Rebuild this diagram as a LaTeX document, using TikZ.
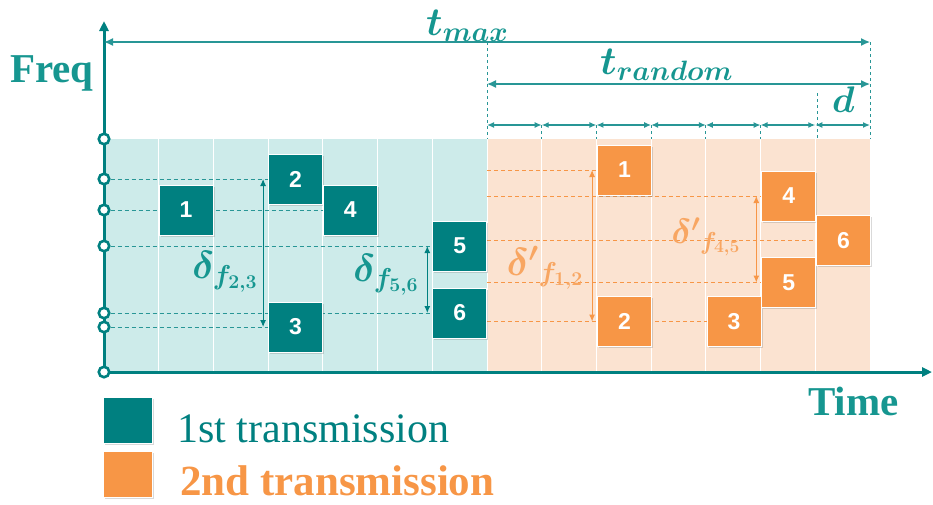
\RequirePackage{fix-cm}
\documentclass[tikz,border=0pt]{standalone}
\usepackage{amsmath}
\usepackage{fontspec}
\setmainfont{Liberation Serif}
\newfontfamily\boxfont{Liberation Sans}
\usetikzlibrary{arrows.meta,shadows,backgrounds}
\definecolor{tealbox}{RGB}{0,128,128}
\definecolor{tealtxt}{RGB}{22,150,144}
\definecolor{tealline}{RGB}{40,150,150}
\definecolor{tealbg}{RGB}{205,235,234}
\definecolor{orangebox}{RGB}{247,150,70}
\definecolor{orangebg}{RGB}{251,227,209}
\newcommand{\fsz}[1]{\fontsize{#1}{#1}\selectfont}
\tikzset{
  txbox/.style={draw=white, line width=0.8pt, minimum width=54pt, minimum height=50pt,
    inner sep=0pt, text=white, font=\boxfont\bfseries\fsz{23},
    drop shadow={opacity=0.3, shadow xshift=1.5pt, shadow yshift=-1.5pt}},
  first/.style={txbox, fill=tealbox},
  second/.style={txbox, fill=orangebox},
  level/.style={circle, draw=tealbox, fill=white, line width=2.6pt, inner sep=0pt, minimum size=10.5pt},
  axis/.style={tealbox, line width=3pt, -{Triangle[length=10pt,width=9pt]}},
  dim/.style={tealline, line width=1.3pt, {Latex[length=9pt,width=8pt]}-{Latex[length=9pt,width=8pt]}},
  dimsmall/.style={tealline, line width=1.3pt, {Latex[length=7pt,width=6pt]}-{Latex[length=7pt,width=6pt]}},
  tick/.style={tealline, line width=1pt, dashed},
  tealdash/.style={tealline, line width=0.9pt, dash pattern=on 4pt off 3pt},
  orangedash/.style={orangebox, line width=0.9pt, dash pattern=on 4pt off 3pt},
  darr/.style={line width=1pt, {Latex[length=7pt,width=6pt]}-{Latex[length=7pt,width=6pt]}},
  mlbl/.style={inner sep=0pt, text=tealtxt},
}

\begin{document}
\begin{tikzpicture}[x=1pt, y=-1pt]
  \useasboundingbox (0,0) rectangle (933,504);

  \coordinate (org) at (104,372);
  \coordinate (ytip) at (104,21);
  \coordinate (xtip) at (932,372);
  \coordinate (tl) at (104,42);
  \coordinate (tm) at (487,42);
  \coordinate (tr) at (870,42);
  \coordinate (rl) at (487,84);
  \coordinate (rr) at (870,84);
  \coordinate (dtop) at (817,93);
  \foreach \i in {0,...,7} \coordinate (s\i) at ({487+54.714*\i},125);

  \draw[axis] (org) -- (ytip);
  \draw[axis] (org) -- (xtip);
  \foreach \n/\y in {c0/139, y2/179, y14/210, y5/246, y6/313, y3/327, c7/372}
    \node[level] (\n) at (104,\y) {};

  \node[first] (a1) at (186,210) {1};
  \node[first] (a2) at (295.5,179) {2};
  \node[first] (a3) at (295.5,327) {3};
  \node[first] (a4) at (350.3,210) {4};
  \node[first] (a5) at (459.7,246) {5};
  \node[first] (a6) at (459.7,313) {6};

  \node[second] (b1) at (624.5,170) {1};
  \node[second] (b2) at (624.5,321.5) {2};
  \node[second] (b3) at (734,321.5) {3};
  \node[second] (b4) at (788.7,196) {4};
  \node[second] (b5) at (788.7,282.5) {5};
  \node[second] (b6) at (843.4,240.5) {6};

  \begin{scope}[on background layer]
    \fill[tealbg] (104,139) rectangle (487,371);
    \fill[orangebg] (487,139) rectangle (870,371);
    \foreach \x in {1,...,13}
      \draw[white, line width=1pt] ({104+54.714*\x},139) -- ++(0,232);
    \foreach \n/\b in {y2/a2, y14/a4, y5/a5, y6/a6, y3/a3}
      \draw[tealdash] (\n) -- (\b);
    \foreach \b in {b1,b4,b6,b5,b3}
      \draw[orangedash] (\b -| tm) -- (\b);
  \end{scope}

  \draw[dim] (tl) -- (tr);
  \draw[dim] (rl) -- (rr);
  \foreach \i [evaluate=\i as \j using int(\i+1)] in {0,...,6}
    \draw[dimsmall] (s\i) -- (s\j);
  \draw[tick] (tm) -- (tm |- c0);
  \draw[tick] (tr) -- (tr |- c0);
  \draw[tick] (dtop) -- (dtop |- c0);
  \foreach \i in {1,...,5} \draw[tick] (s\i) -- (s\i |- c0);

  \draw[darr, tealbox] ([xshift=-5pt]a2.west) -- ([xshift=-5pt]a3.west);
  \draw[darr, tealbox] ([xshift=-5pt]a5.west) -- ([xshift=-5pt]a6.west);
  \draw[darr, orangebox] ([xshift=-5pt]b1.west) -- ([xshift=-5pt]b2.west);
  \draw[darr, orangebox] ([xshift=-5pt]b4.west) -- ([xshift=-5pt]b5.west);

  \node[mlbl, anchor=base west, font=\fsz{40}\boldmath] (tmax) at (426,35) {$t_{max}$};
  \node[mlbl, anchor=base west, font=\fsz{40}\boldmath] (trand) at (600,74) {$t_{random}$};
  \node[mlbl, anchor=base west, font=\fsz{37}\boldmath] (dlbl) at (832,112) {$d$};
  \node[mlbl, font=\fsz{39}\boldmath] (d23) at (225,272) {$\delta_{f_{2,3}}$};
  \node[mlbl, font=\fsz{39}\boldmath] (d56) at (386,275) {$\delta_{f_{5,6}}$};
  \node[mlbl, text=orangebox!85!white, font=\fsz{39}\boldmath] (e12) at (545,268) {${\delta'}_{f_{1,2}}$};
  \node[mlbl, text=orangebox!85!white, font=\fsz{35}\boldmath] (e45) at (706,237) {${\delta'}_{f_{4,5}}$};

  \node[anchor=base west, inner sep=0pt, text=tealtxt, font=\bfseries\fsz{41}] (freq) at (10,82) {Freq};
  \node[anchor=base west, inner sep=0pt, text=tealtxt, font=\bfseries\fsz{41}] (time) at (808,415) {Time};

  \node[first, minimum width=49pt, minimum height=46pt] (k1) at (127.5,420) {};
  \node[second, minimum width=49pt, minimum height=46pt] (k2) at (127.5,474.5) {};
  \node[anchor=base west, inner sep=0pt, text=tealbox, font=\fsz{42}] (l1) at (177,442) {1st transmission};
  \node[anchor=base west, inner sep=0pt, text depth=0pt, text=orangebox, font=\bfseries\fsz{43}] (l2) at (180,495) {2nd transmission};
\end{tikzpicture}
\end{document}
